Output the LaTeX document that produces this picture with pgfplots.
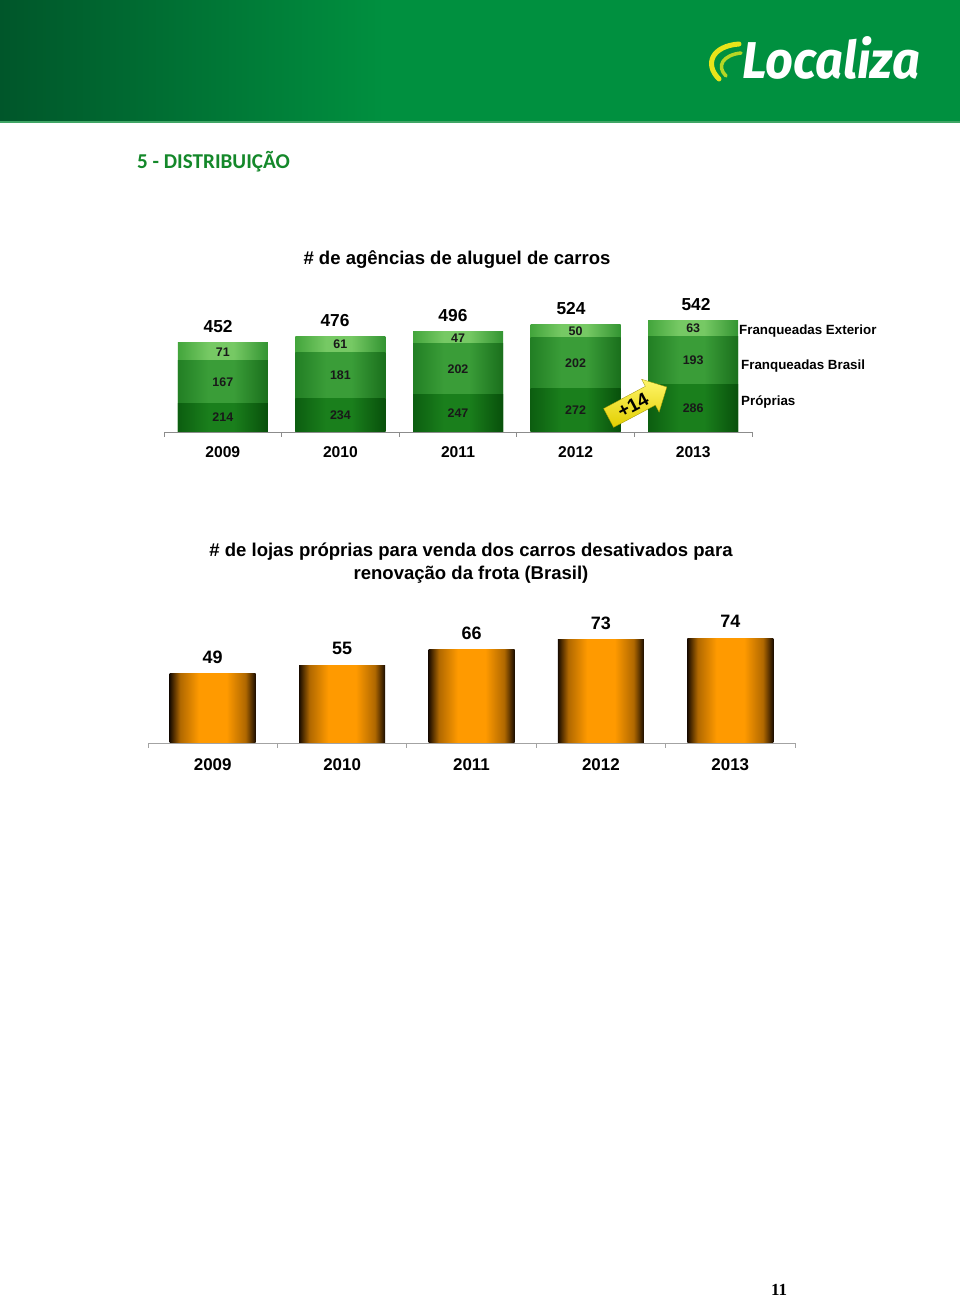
\documentclass[border=0pt]{standalone}
\usepackage{fontspec}
\setmainfont{Liberation Sans}
\newfontfamily\titlefont{Carlito}
\newfontfamily\logofont{Fira Sans}
\newfontfamily\pagefont{Liberation Serif}
\usepackage{graphicx}
\usepackage{pgfplots}
\pgfplotsset{compat=1.18}
\usetikzlibrary{shapes.arrows}

\definecolor{hdrA}{HTML}{00562A}
\definecolor{hdrB}{HTML}{00903F}
\definecolor{hdrLine}{HTML}{3FA565}
\definecolor{secgreen}{HTML}{14882A}
\definecolor{logoyel}{HTML}{E8E41A}
\definecolor{logolime}{HTML}{B5D625}
\definecolor{axisgray}{HTML}{8C8C8C}
\definecolor{gdE}{HTML}{0C5E10}
\definecolor{gdM}{HTML}{1A7F1C}
\definecolor{gdR}{HTML}{08500B}
\definecolor{gmE}{HTML}{227F24}
\definecolor{gmM}{HTML}{3A9D38}
\definecolor{gmR}{HTML}{1A6F1C}
\definecolor{glE}{HTML}{43A53C}
\definecolor{glM}{HTML}{76C964}
\definecolor{glR}{HTML}{339432}
\definecolor{obA}{HTML}{1A0C00}
\definecolor{obB}{HTML}{B06800}
\definecolor{obC}{HTML}{FF9A00}
\definecolor{arrA}{HTML}{FFF56A}
\definecolor{arrB}{HTML}{E2CF00}

\pgfdeclarehorizontalshading{hdr}{100bp}{color(0bp)=(hdrA); color(25bp)=(hdrA); color(45bp)=(hdrB); color(100bp)=(hdrB)}
\pgfdeclarehorizontalshading{gdark}{100bp}{color(0bp)=(gdE); color(25bp)=(gdE); color(42bp)=(gdM); color(56bp)=(gdM); color(75bp)=(gdR); color(100bp)=(gdR)}
\pgfdeclarehorizontalshading{gmid}{100bp}{color(0bp)=(gmE); color(25bp)=(gmE); color(42bp)=(gmM); color(56bp)=(gmM); color(75bp)=(gmR); color(100bp)=(gmR)}
\pgfdeclarehorizontalshading{glight}{100bp}{color(0bp)=(glE); color(25bp)=(glE); color(42bp)=(glM); color(56bp)=(glM); color(75bp)=(glR); color(100bp)=(glR)}
\pgfdeclarehorizontalshading{orangebar}{100bp}{color(0bp)=(obA); color(25bp)=(obA); color(31bp)=(obB); color(42bp)=(obC); color(58bp)=(obC); color(69bp)=(obB); color(75bp)=(obA); color(100bp)=(obA)}

% one shaded bar per \addplot, so that each bar gets its own shading
\pgfplotsset{
  onebar/.style={draw=none, shade, shading=#1, bar shift=0pt, forget plot},
}

\begin{document}
\begin{tikzpicture}[x=1bp,y=1bp]
% page and header (pixel coordinates, y downwards)
\begin{scope}[shift={(0,1298)}, y=-1bp]
\fill[white] (0,0) rectangle (960,1298);
\shade[shading=hdr] (0,0) rectangle (960,122);
\fill[hdrLine] (0,121) rectangle (960,123);
\draw[line width=5bp, logoyel, line cap=round] (739,44) .. controls (712,46) and (704,64) .. (719,79);
\draw[line width=3.5bp, logolime, line cap=round] (741,53) .. controls (723,55) and (716,66) .. (726,76);
\node[anchor=base west, text=white, inner sep=0, font=\logofont\bfseries\itshape\fontsize{52}{52}\selectfont] at (742,79) {\scalebox{0.94}[1]{Localiza}};
\node[anchor=base west, text=secgreen, inner sep=0, font=\titlefont\bfseries\fontsize{21.2}{21}\selectfont] at (137,169) {5 - DISTRIBUIÇÃO};
\node[anchor=base, inner sep=0, font=\bfseries\fontsize{18.6}{19}\selectfont] at (457,265) {\# de agências de aluguel de carros};
\node[anchor=base west, inner sep=0, font=\bfseries\fontsize{13.4}{14}\selectfont] at (739,335) {Franqueadas Exterior};
\node[anchor=base west, inner sep=0, font=\bfseries\fontsize{13.4}{14}\selectfont] at (741,370) {Franqueadas Brasil};
\node[anchor=base west, inner sep=0, font=\bfseries\fontsize{13.4}{14}\selectfont] at (741,406) {Próprias};
\node[anchor=base, inner sep=0, font=\bfseries\fontsize{18.6}{19}\selectfont] at (471,557) {\# de lojas próprias para venda dos carros desativados para};
\node[anchor=base, inner sep=0, font=\bfseries\fontsize{18.6}{19}\selectfont] at (471,580) {renovação da frota (Brasil)};
\node[anchor=base, inner sep=0, font=\pagefont\bfseries\fontsize{17}{17}\selectfont] at (779,1296) {11};
\end{scope}

% chart 1: stacked bars, drawn as overlapping cumulative bars
\begin{axis}[at={(164bp,866bp)}, anchor=south west, scale only axis,
  width=588bp, height=126.5bp,
  xmin=-0.5, xmax=4.5, ymin=100, ymax=600,
  ybar, bar width=90bp,
  axis x line*=bottom, axis y line=none,
  x axis line style={axisgray, line width=0.9bp},
  xtick={0,...,4},
  xticklabels={\textbf{2009},\textbf{2010},\textbf{2011},\textbf{2012},\textbf{2013}},
  major tick length=0pt,
  minor xtick={-0.5,0.5,1.5,2.5,3.5,4.5},
  minor tick length=5bp, tick align=outside,
  minor tick style={axisgray, line width=0.9bp},
  xticklabel style={font=\fontsize{15.7}{16}\selectfont, yshift=-11bp},
]
% Franqueadas Exterior (top of stack = total)
\addplot[onebar=glight] coordinates {(0,452)};
\addplot[onebar=glight] coordinates {(1,476)};
\addplot[onebar=glight] coordinates {(2,496)};
\addplot[onebar=glight] coordinates {(3,524)};
\addplot[onebar=glight] coordinates {(4,542)};
% Franqueadas Brasil (Proprias + Brasil)
\addplot[onebar=gmid] coordinates {(0,381)};
\addplot[onebar=gmid] coordinates {(1,415)};
\addplot[onebar=gmid] coordinates {(2,449)};
\addplot[onebar=gmid] coordinates {(3,474)};
\addplot[onebar=gmid] coordinates {(4,479)};
% Proprias
\addplot[onebar=gdark] coordinates {(0,214)};
\addplot[onebar=gdark] coordinates {(1,234)};
\addplot[onebar=gdark] coordinates {(2,247)};
\addplot[onebar=gdark] coordinates {(3,272)};
\addplot[onebar=gdark] coordinates {(4,286)};
\end{axis}

% chart 1: labels
\begin{axis}[at={(164bp,866bp)}, anchor=south west, scale only axis,
  width=588bp, height=126.5bp,
  xmin=-0.5, xmax=4.5, ymin=100, ymax=600, hide axis,
  nodes near coords, point meta=explicit symbolic,
]
\addplot[draw=none, mark=none, nodes near coords style={anchor=center, inner sep=0, text=black!90, font=\bfseries\fontsize{12.5}{13}\selectfont}]
  coordinates {(0,157) [214] (1,167) [234] (2,173.5) [247] (3,186) [272] (4,193) [286]
               (0,297.5) [167] (1,324.5) [181] (2,348) [202] (3,373) [202] (4,382.5) [193]
               (0,416.5) [71] (1,445.5) [61] (2,472.5) [47] (3,499) [50] (4,510.5) [63]};
\addplot[draw=none, mark=none, nodes near coords style={anchor=base, inner sep=0, yshift=10bp, font=\bfseries\fontsize{17.4}{18}\selectfont}]
  coordinates {(-0.04,452) [452] (0.954,476) [476] (1.957,496) [496] (2.961,524) [524] (4.024,542) [542]};
\end{axis}

% growth arrow between 2012 and 2013
\node[single arrow, rotate=28, top color=arrA, bottom color=arrB, draw=arrB!70!black, line width=0.3bp,
  single arrow head extend=8bp, minimum height=66bp, inner xsep=3bp, inner ysep=4bp,
  font=\bfseries\fontsize{19}{19}\selectfont] at (633bp,893bp) {+14};

% chart 2: bars
\begin{axis}[at={(148bp,555bp)}, anchor=south west, scale only axis,
  width=647bp, height=141.5bp,
  xmin=-0.5, xmax=4.5, ymin=0, ymax=100,
  ybar, bar width=86bp,
  axis x line*=bottom, axis y line=none,
  x axis line style={axisgray!80, line width=0.9bp},
  xtick={0,...,4},
  xticklabels={\textbf{2009},\textbf{2010},\textbf{2011},\textbf{2012},\textbf{2013}},
  major tick length=0pt,
  minor xtick={-0.5,0.5,1.5,2.5,3.5,4.5},
  minor tick length=5bp, tick align=outside,
  minor tick style={axisgray!80, line width=0.9bp},
  xticklabel style={font=\fontsize{17}{17}\selectfont, yshift=-12.3bp},
  /pgf/number format/assume math mode=true,
  nodes near coords,
  nodes near coords style={anchor=base, inner sep=0, yshift=10.5bp, font=\bfseries\fontsize{18}{18}\selectfont},
]
\addplot[onebar=orangebar] coordinates {(0,49)};
\addplot[onebar=orangebar] coordinates {(1,55)};
\addplot[onebar=orangebar] coordinates {(2,66)};
\addplot[onebar=orangebar] coordinates {(3,73)};
\addplot[onebar=orangebar] coordinates {(4,74)};
\end{axis}
\end{tikzpicture}
\end{document}
